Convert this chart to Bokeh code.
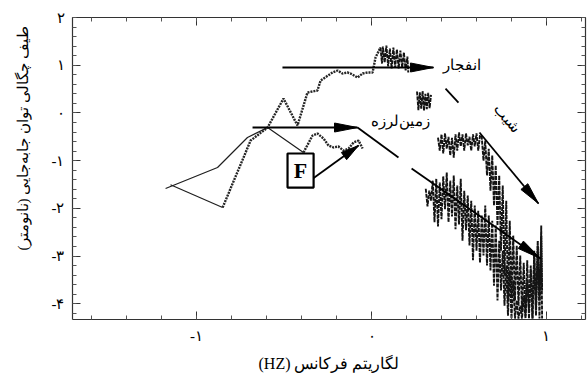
import numpy as np
from bokeh.plotting import figure
from bokeh.models import LinearAxis, SingleIntervalTicker, Range1d, CustomLabelingPolicy
from bokeh.core.properties import value
from bokeh.embed import file_html
from bokeh.resources import INLINE

# ---------------- data (log frequency, log PSD) ----------------
# explosion spectrum
exp_thin_x = [-1.149, -0.851]
exp_thin_y = [-1.505, -1.983]
exp_mid_x = [-0.851, -0.691, -0.594, -0.503, -0.423, -0.366, -0.309, -0.291, -0.223, -0.194,
             -0.166, -0.137, -0.120, -0.080, -0.051, -0.023, 0.006, 0.023, 0.051]
exp_mid_y = [-1.983, -0.579, -0.306, 0.302, -0.264, 0.428, 0.470, 0.679, 0.847, 0.889,
             0.826, 0.847, 0.826, 0.742, 0.826, 0.847, 0.847, 1.161, 1.371]
exp_top_x = [0.051, 0.06, 0.065, 0.075, 0.085, 0.095, 0.105, 0.115, 0.125, 0.135, 0.145,
             0.155, 0.165, 0.175, 0.185, 0.195, 0.205, 0.21]
exp_top_y = [1.371, 1.035, 1.392, 1.056, 1.413, 0.973, 1.350, 0.931, 1.371, 0.952, 1.329,
             0.931, 1.308, 0.952, 1.266, 0.889, 1.182, 0.847]
exp_b_x = [0.26, 0.268, 0.276, 0.284, 0.292, 0.30, 0.308, 0.316, 0.324, 0.332, 0.34]
exp_b_y = [0.45, 0.06, 0.43, 0.09, 0.46, 0.05, 0.40, 0.08, 0.42, 0.10, 0.38]
exp_c_x = [0.38, 0.39, 0.40, 0.41, 0.42, 0.43, 0.44, 0.45, 0.46, 0.47, 0.48, 0.49, 0.50,
           0.51, 0.52, 0.53, 0.54, 0.55, 0.56, 0.57, 0.58, 0.59, 0.60, 0.61, 0.62,
           0.63, 0.64, 0.65, 0.66, 0.67, 0.68, 0.69, 0.70, 0.71, 0.72, 0.73, 0.74, 0.75,
           0.76, 0.77, 0.78, 0.79, 0.80, 0.81, 0.82, 0.83, 0.84, 0.85, 0.86, 0.87, 0.88,
           0.89, 0.90, 0.91, 0.92, 0.93, 0.94, 0.95, 0.96, 0.97, 0.975]
exp_c_y = [-0.52, -0.79, -0.45, -0.85, -0.43, -0.75, -0.50, -0.89, -0.52, -0.94, -0.45, -0.79,
           -0.41, -0.70, -0.45, -0.79, -0.43, -0.68, -0.50, -0.79, -0.45, -0.70, -0.43, -0.79,
           -0.47,
           -0.50, -1.00, -0.58, -1.31, -0.75, -1.63, -0.89, -1.94, -1.10, -2.36, -1.31, -2.89,
           -1.52, -3.41, -1.84, -3.93, -2.26, -3.83, -2.57, -3.93, -2.78, -4.04, -2.99, -4.14,
           -3.14, -4.25, -3.09, -4.31, -3.20, -4.31, -2.89, -4.14, -2.78, -3.93, -2.57, -3.72]

# earthquake spectrum
eq_thin_x = [-1.177, -0.880, -0.709, -0.594, -0.389]
eq_thin_y = [-1.585, -1.145, -0.516, -0.306, -0.830]
eq_mid_x = [-0.389, -0.337, -0.309, -0.274, -0.246, -0.217, -0.189, -0.160, -0.131, -0.103,
            -0.074, -0.051]
eq_mid_y = [-0.830, -0.474, -0.432, -0.537, -0.683, -0.725, -0.704, -0.788, -0.746, -0.621,
            -0.579, -0.746]
eq_c_x = [0.31, 0.32, 0.33, 0.34, 0.35, 0.36, 0.37, 0.38, 0.39, 0.40, 0.41, 0.42, 0.43, 0.44,
          0.45, 0.46, 0.47, 0.48, 0.49, 0.50, 0.51, 0.52, 0.53, 0.54, 0.55, 0.56, 0.57, 0.58,
          0.59, 0.60, 0.61, 0.62, 0.63, 0.64, 0.65, 0.66, 0.67, 0.68, 0.69, 0.70, 0.71, 0.72,
          0.73, 0.74, 0.75, 0.76, 0.77, 0.78, 0.79, 0.80, 0.81, 0.82, 0.83, 0.84, 0.85, 0.86,
          0.87, 0.88, 0.89, 0.90, 0.91, 0.92, 0.93, 0.94, 0.95, 0.96, 0.97, 0.975]
eq_c_y = [-1.59, -1.96, -1.63, -1.84, -1.42, -2.29, -1.38, -2.38, -1.46, -2.23, -1.33, -2.02,
          -1.25, -2.29, -1.42, -2.17, -1.31, -2.44, -1.52, -2.34, -1.38, -2.68, -1.63, -2.46,
          -1.73, -2.78, -1.84, -3.09, -1.94, -2.89, -2.05, -3.14, -2.15, -2.99, -1.94, -3.20,
          -2.15, -3.30, -2.26, -3.62, -2.36, -3.93, -2.68, -3.72, -2.89, -4.04, -3.20, -4.25,
          -3.30, -4.31, -3.51, -4.31, -3.93, -4.31, -4.04, -4.31, -3.83, -4.31, -3.51, -4.14,
          -3.30, -4.31, -2.99, -4.25, -2.68, -4.31, -2.36, -4.31]

# annotation arrows (x0, y0, x1, y1)
arrow_x0 = [-0.509, -0.680, 0.229, 0.617, -0.366]
arrow_y0 = [0.952, -0.306, -1.166, -0.411, -1.459]
arrow_x1 = [0.354, -0.080, 0.966, 0.954, -0.074]
arrow_y1 = [0.952, -0.306, -3.052, -1.899, -0.683]
arrow_head = [23, 23, 24, 22, 18]
# plain annotation segments
seg_x0 = [-0.080, 0.423]
seg_y0 = [-0.306, 0.511]
seg_x1 = [0.154, 0.497]
seg_y1 = [-0.935, 0.218]

# text labels
lbl_text = ["انفجار", "زمین‌لرزه", "شیب"]
lbl_x = [0.52, 0.165, 0.777]
lbl_y = [1.0, -0.16, -0.12]
lbl_angle = [0.0, 0.0, -0.9]

box_l, box_r, box_t, box_b = -0.480, -0.331, -0.851, -1.564

x_tick_labels = {-1: "-۱", 0: "۰", 1: "۱"}
y_tick_labels = {2: "۲", 1: "۱", 0: "۰", -1: "-۱", -2: "-۲", -3: "-۳", -4: "-۴"}
x_title = "(HZ) لگاریتم فرکانس"
y_title = "طیف چگالی توان جابه‌جایی (نانومتر)"

# ---------------- figure ----------------
XR = (-1.709, 1.223)
YR = (-4.33, 2.0)
FW, FH = 513.0, 302.0
SX = FW / (XR[1] - XR[0])
SY = FH / (YR[1] - YR[0])
SERIF = "Liberation Serif"
INK = "#1e1e1e"

p = figure(width=587, height=383, x_range=Range1d(*XR), y_range=Range1d(*YR),
           output_backend="svg", toolbar_location=None,
           min_border_left=72, min_border_right=2, min_border_top=17, min_border_bottom=64)
p.grid.visible = False
p.outline_line_color = None
p.background_fill_color = "white"
p.border_fill_color = "white"

no_labels = CustomLabelingPolicy(code="for (const i of indices) indices.unset(i); return indices")


def style_axis(ax, labels=True):
    ax.ticker = SingleIntervalTicker(interval=1, num_minor_ticks=5)
    ax.axis_line_color = "#333333"
    ax.axis_line_width = 1.2
    ax.major_tick_in = 8
    ax.major_tick_out = 0
    ax.minor_tick_in = 4
    ax.minor_tick_out = 0
    ax.major_tick_line_color = "#333333"
    ax.minor_tick_line_color = "#555555"
    if labels:
        ax.major_label_text_font = SERIF
        ax.major_label_text_font_size = "15px"
        ax.major_label_text_color = "black"
        ax.major_label_standoff = 8
    else:
        ax.major_label_text_font_size = "0px"
        ax.major_label_standoff = 0
        ax.major_label_policy = no_labels


style_axis(p.xaxis[0])
style_axis(p.yaxis[0])
p.xaxis[0].major_label_overrides = x_tick_labels
p.yaxis[0].major_label_overrides = y_tick_labels
p.yaxis[0].major_label_orientation = "horizontal"
p.xaxis[0].axis_label = x_title
p.xaxis[0].axis_label_text_font = SERIF
p.xaxis[0].axis_label_text_font_size = "16px"
p.xaxis[0].axis_label_text_font_style = "normal"
p.xaxis[0].axis_label_text_color = "black"
p.xaxis[0].axis_label_standoff = 8
# leading no-break spaces lift the (right-to-left) title towards the top, as in the source
p.yaxis[0].axis_label = "\u00a0" * 16 + y_title
p.yaxis[0].axis_label_text_font = SERIF
p.yaxis[0].axis_label_text_font_size = "15px"
p.yaxis[0].axis_label_text_font_style = "normal"
p.yaxis[0].axis_label_text_color = "black"
p.yaxis[0].axis_label_standoff = 18

top_ax = LinearAxis()
style_axis(top_ax, labels=False)
right_ax = LinearAxis()
style_axis(right_ax, labels=False)
p.add_layout(top_ax, "above")
p.add_layout(right_ax, "right")

# ---------------- series ----------------
p.line(exp_thin_x, exp_thin_y, line_width=1.2, line_color=INK)
p.line(eq_thin_x, eq_thin_y, line_width=1.2, line_color=INK)
p.line(exp_mid_x, exp_mid_y, line_width=2.4, line_color="#262626", line_dash="2 1")
p.line(eq_mid_x, eq_mid_y, line_width=2.4, line_color="#262626", line_dash="2 1")
for xs, ys in [(exp_top_x, exp_top_y), (exp_b_x, exp_b_y), (exp_c_x, exp_c_y), (eq_c_x, eq_c_y)]:
    p.line(xs, ys, line_width=1.9, line_color="#141414", line_dash="4 1")

# ---------------- annotations ----------------
p.segment(x0=arrow_x0, y0=arrow_y0, x1=arrow_x1, y1=arrow_y1, line_width=1.8, line_color="black")
p.segment(x0=seg_x0, y0=seg_y0, x1=seg_x1, y1=seg_y1, line_width=1.8, line_color="black")

head_xs, head_ys = [], []
for x0, y0, x1, y1, L in zip(arrow_x0, arrow_y0, arrow_x1, arrow_y1, arrow_head):
    dx, dy = (x1 - x0) * SX, (y1 - y0) * SY
    n = np.hypot(dx, dy)
    ux, uy = dx / n, dy / n
    W = 4.5
    bx, by = x1 - L * ux / SX, y1 - L * uy / SY
    head_xs.append([x1, bx - W * uy / SX, bx + W * uy / SX])
    head_ys.append([y1, by + W * ux / SY, by - W * ux / SY])
p.patches(head_xs, head_ys, fill_color="black", line_color="black", line_width=1)

p.quad(left=[box_l], right=[box_r], top=[box_t], bottom=[box_b], fill_color="white",
       line_color="black", line_width=2.2)
p.text(x=[(box_l + box_r) / 2], y=[(box_t + box_b) / 2], text=["F"],
       text_font=value(SERIF), text_font_size=value("22px"), text_font_style="bold",
       text_align="center", text_baseline="middle", text_color="black")

p.text(x=lbl_x, y=lbl_y, text=lbl_text, angle=lbl_angle, text_font=value(SERIF),
       text_font_size=value("15px"), text_align="center", text_baseline="middle",
       text_color="black")

open("out.html", "w").write(file_html(p, INLINE))
